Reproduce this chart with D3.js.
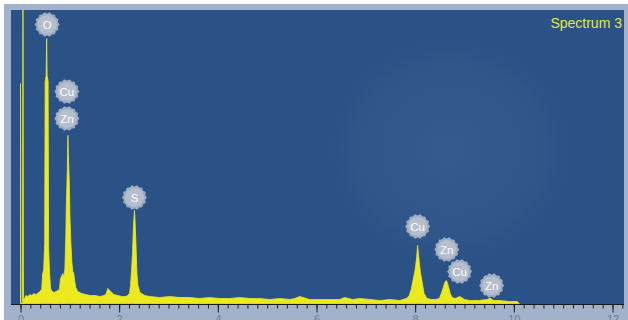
<!DOCTYPE html>
<html>
<head>
<meta charset="utf-8">
<script src="https://cdn.jsdelivr.net/npm/d3@7/dist/d3.min.js"></script>
<style>
  html, body { margin: 0; padding: 0; background: #fff; }
  svg { display: block; }
</style>
</head>
<body>
<svg id="chart" width="628" height="320"></svg>
<script>
// spectrum, energy in keV and counts (arbitrary units)
const energy = [
  0.00, 0.01, 0.04, 0.05, 0.06, 0.07, 0.11, 0.15, 0.19, 0.23, 0.27, 0.31, 0.35, 0.39, 0.43,
  0.45, 0.47, 0.49, 0.50, 0.52, 0.53, 0.54, 0.56, 0.57, 0.59, 0.61, 0.64, 0.68, 0.72, 0.79,
  0.81, 0.84, 0.86, 0.88, 0.90, 0.92, 0.93, 0.95, 0.96, 0.97, 0.99, 1.00, 1.02, 1.04, 1.06,
  1.08, 1.10, 1.12, 1.16, 1.24, 1.32, 1.41, 1.51, 1.61, 1.69, 1.73, 1.75, 1.77, 1.81, 1.89,
  1.97, 2.05, 2.13, 2.17, 2.21, 2.23, 2.25, 2.27, 2.29, 2.31, 2.32, 2.34, 2.36, 2.38, 2.42,
  2.52, 2.62, 2.82, 3.02, 3.23, 3.43, 3.63, 3.83, 4.04, 4.24, 4.44, 4.65, 4.85, 5.05, 5.26,
  5.46, 5.56, 5.66, 5.86, 6.07, 6.27, 6.47, 6.57, 6.73, 6.88, 7.08, 7.29, 7.49, 7.69, 7.82,
  7.88, 7.92, 7.96, 8.00, 8.03, 8.05, 8.07, 8.09, 8.11, 8.14, 8.18, 8.24, 8.33, 8.41, 8.49,
  8.53, 8.57, 8.60, 8.63, 8.65, 8.68, 8.71, 8.75, 8.81, 8.86, 8.90, 8.94, 9.00, 9.10, 9.30,
  9.46, 9.50, 9.54, 9.58, 9.70, 9.91, 10.07, 10.11
];
const counts = [
  220, 0, 0, 330, 0, 4, 8, 7, 9, 8, 10, 9, 10, 12, 14,
  30, 34, 60, 222, 228, 265, 228, 222, 55, 30, 15, 12, 11, 12, 14,
  25, 28, 30, 26, 35, 70, 100, 135, 168, 150, 120, 90, 62, 42, 32,
  30, 22, 16, 12, 10, 9, 8, 8, 7, 8, 9, 12, 15, 13, 9,
  8, 7, 7, 8, 10, 18, 32, 50, 78, 93, 85, 60, 30, 18, 11,
  8, 7, 6, 7, 6, 6, 5, 6, 5, 5, 6, 5, 5, 4, 5,
  4, 5, 7, 4, 4, 4, 4, 6, 4, 5, 4, 3, 4, 3, 5,
  8, 14, 24, 34, 46, 58, 48, 38, 30, 22, 10, 5, 4, 4, 5,
  10, 16, 21, 23, 21, 16, 10, 6, 5, 6, 7, 6, 4, 3, 3,
  4, 5, 5, 3, 3, 2, 2, 0
];

// peak labels
const peakNames = ["O", "Cu", "Zn", "S", "Cu", "Zn", "Cu", "Zn"];
const peakEnergy = [0.54, 0.94, 0.94, 2.31, 8.05, 8.64, 8.90, 9.55];
const peakLabelAt = [279, 212, 185, 106, 77, 54, 32, 18];

const xTicksMajor = [0, 2, 4, 6, 8, 10, 12];
const title = "Spectrum 3";

const W = 628, H = 320;
const plot = { left: 11, right: 624, top: 10, bottom: 304 };

const svg = d3.select("#chart");

const x = d3.scaleLinear().domain([0, 12]).range([20.5, 612.5]);
const y = d3.scaleLinear().domain([0, 294]).range([303.5, 9.5]);

// frame
svg.append("rect")
  .attr("x", 4).attr("y", 4).attr("width", W - 4).attr("height", H - 4)
  .attr("fill", "#a2b2cb");

const defs = svg.append("defs");
defs.append("clipPath").attr("id", "plotClip")
  .append("rect")
  .attr("x", plot.left).attr("y", plot.top)
  .attr("width", plot.right - plot.left).attr("height", plot.bottom - plot.top);

const glow = defs.append("radialGradient").attr("id", "glow")
  .attr("cx", 0.5).attr("cy", 0.5).attr("r", 0.5);
glow.append("stop").attr("offset", "0%").attr("stop-color", "#4f72a3").attr("stop-opacity", 0.3);
glow.append("stop").attr("offset", "75%").attr("stop-color", "#466a9b").attr("stop-opacity", 0.15);
glow.append("stop").attr("offset", "100%").attr("stop-color", "#2b5286").attr("stop-opacity", 0);

svg.append("rect")
  .attr("x", plot.left).attr("y", plot.top)
  .attr("width", plot.right - plot.left).attr("height", plot.bottom - plot.top)
  .attr("fill", "#2b5286");

// faint watermark blob
svg.append("ellipse")
  .attr("cx", 450).attr("cy", 150).attr("rx", 130).attr("ry", 120)
  .attr("fill", "url(#glow)");

const g = svg.append("g").attr("clip-path", "url(#plotClip)");

const pts = energy.map((e, i) => [e, counts[i]]);
const area = d3.area()
  .x(d => x(d[0]))
  .y0(y(0))
  .y1(d => y(d[1]))
  .curve(d3.curveLinear);

g.append("path")
  .datum(pts)
  .attr("fill", "#ecea1e")
  .attr("stroke", "#ecea1e")
  .attr("stroke-width", 0.8)
  .attr("d", area);

// peak labels
const star = (r1, r2, n) => {
  const p = [];
  for (let i = 0; i < n * 2; i++) {
    const r = i % 2 ? r2 : r1;
    const a = Math.PI * i / n;
    p.push([Math.cos(a) * r, Math.sin(a) * r]);
  }
  return "M" + p.map(d => d.join(",")).join("L") + "Z";
};

const labels = g.selectAll(".peak")
  .data(peakNames.map((n, i) => ({ name: n, e: peakEnergy[i], c: peakLabelAt[i] })))
  .join("g")
  .attr("class", "peak")
  .attr("transform", d => `translate(${x(d.e)},${y(d.c)})`);

labels.append("path")
  .attr("d", star(12.5, 11, 14))
  .attr("fill", "#b4bccb")
  .attr("fill-opacity", 0.85);

labels.append("circle")
  .attr("r", 9.5)
  .attr("fill", "#c3c9d4")
  .attr("fill-opacity", 0.6);

labels.append("text")
  .attr("text-anchor", "middle")
  .attr("dy", "0.36em")
  .attr("fill", "#ffffff")
  .attr("font-family", "Liberation Sans, Arial, sans-serif")
  .attr("font-size", 11.5)
  .text(d => d.name);

// title
svg.append("text")
  .attr("x", 622).attr("y", 28)
  .attr("text-anchor", "end")
  .attr("fill", "#e6e640")
  .attr("font-family", "Liberation Sans, Arial, sans-serif")
  .attr("font-size", 14)
  .text(title);

// x axis
const axisMinor = svg.append("g")
  .attr("transform", `translate(0,${plot.bottom + 0.5})`)
  .call(d3.axisBottom(x).tickValues(d3.range(0, 12.21, 0.2)).tickSize(4).tickFormat(() => ""));
axisMinor.select(".domain").remove();
axisMinor.selectAll("line").attr("stroke", "#1b1b1b");

const axisMajor = svg.append("g")
  .attr("transform", `translate(0,${plot.bottom + 0.5})`)
  .call(d3.axisBottom(x).tickValues(xTicksMajor).tickSize(8).tickPadding(3));
axisMajor.select(".domain").remove();
axisMajor.selectAll("line").attr("stroke", "#1b1b1b");
axisMajor.selectAll("text")
  .attr("fill", "#6e7e98")
  .attr("font-family", "Liberation Sans, Arial, sans-serif")
  .attr("font-size", 11);

svg.append("line")
  .attr("x1", plot.left).attr("x2", plot.right)
  .attr("y1", plot.bottom + 0.5).attr("y2", plot.bottom + 0.5)
  .attr("stroke", "#1b1b1b").attr("stroke-width", 1.2);
</script>
</body>
</html>
